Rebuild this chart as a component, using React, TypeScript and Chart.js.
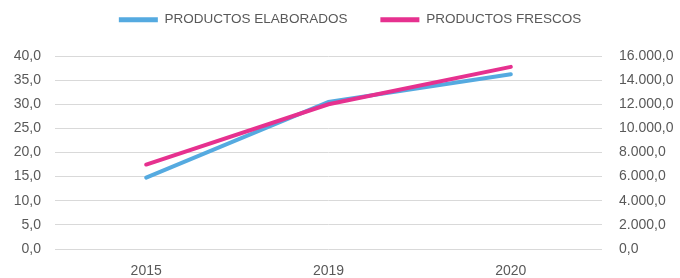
import React, { useEffect, useRef } from "react";
import { Chart, registerables } from "chart.js";

Chart.register(...registerables);

const years = ["2015", "2019", "2020"];
const elaborados = [14.8, 30.5, 36.2];
const frescos = [7000, 12000, 15100];
const seriesNames = ["PRODUCTOS ELABORADOS", "PRODUCTOS FRESCOS"];
const seriesColors = ["#55AAE0", "#E6318F"];

const fmtLeft = (v: number) => v.toFixed(1).replace(".", ",");
const fmtRight = (v: number) => {
  const s = Math.round(v).toString().replace(/\B(?=(\d{3})+(?!\d))/g, ".");
  return s + ",0";
};

const FONT = "'Liberation Sans', Arial, sans-serif";
const TICK_COLOR = "#595959";

export default function App() {
  const ref = useRef<HTMLCanvasElement | null>(null);

  useEffect(() => {
    document.body.style.margin = "0";
    if (!ref.current) return;
    const defaultGen = (Chart.defaults.plugins.legend.labels as any).generateLabels;
    const chart = new Chart(ref.current, {
      type: "line",
      data: {
        labels: years,
        datasets: [
          {
            label: seriesNames[0],
            data: elaborados,
            borderColor: seriesColors[0],
            backgroundColor: seriesColors[0],
            borderWidth: 4,
            borderCapStyle: "round",
            pointRadius: 0,
            tension: 0,
            yAxisID: "y",
            order: 1,
          },
          {
            label: seriesNames[1],
            data: frescos,
            borderColor: seriesColors[1],
            backgroundColor: seriesColors[1],
            borderWidth: 4,
            borderCapStyle: "round",
            pointRadius: 0,
            tension: 0,
            yAxisID: "y1",
            order: 0,
          },
        ],
      },
      options: {
        animation: false,
        responsive: true,
        maintainAspectRatio: false,
        layout: { padding: { top: -20, left: 0, right: -20, bottom: 0 } },
        plugins: {
          tooltip: { enabled: false },
          legend: {
            display: true,
            position: "top",
            weight: 3000,
            labels: {
              boxWidth: 39,
              boxHeight: 5,
              padding: 33,
              color: TICK_COLOR,
              font: { family: FONT, size: 13.5 },
              sort: (a: any, b: any) => a.datasetIndex - b.datasetIndex,
              generateLabels: (c: any) =>
                defaultGen(c).map((it: any) => ({ ...it, lineWidth: 0 })),
            },
          } as any,
          subtitle: {
            display: true,
            text: "",
            padding: 0,
            font: { size: 19.5, lineHeight: 1 },
          },
          title: { display: false },
        },
        scales: {
          x: {
            offset: true,
            grid: { display: false, drawTicks: false },
            border: { display: false },
            ticks: {
              color: TICK_COLOR,
              font: { family: FONT, size: 14 },
              padding: 14,
              maxRotation: 0,
            },
            afterFit: (s: any) => {
              s.height = 29;
            },
          },
          y: {
            position: "left",
            min: 0,
            max: 40,
            grid: { color: "#D9D9D9", lineWidth: 1, drawTicks: false },
            border: { display: false },
            ticks: {
              stepSize: 5,
              color: TICK_COLOR,
              font: { family: FONT, size: 14 },
              padding: 14,
              callback: (v: any) => fmtLeft(Number(v)),
            },
            afterFit: (s: any) => {
              s.width = 55;
            },
          },
          y1: {
            position: "right",
            min: 0,
            max: 16000,
            grid: { display: false, drawTicks: false },
            border: { display: false },
            ticks: {
              stepSize: 2000,
              color: TICK_COLOR,
              font: { family: FONT, size: 14 },
              padding: 17,
              callback: (v: any) => fmtRight(Number(v)),
            },
            afterFit: (s: any) => {
              s.width = 98;
            },
          },
        },
      },
    });
    return () => chart.destroy();
  }, []);

  return (
    <div style={{ width: 680, height: 278, position: "relative" }}>
      <canvas ref={ref} />
    </div>
  );
}
